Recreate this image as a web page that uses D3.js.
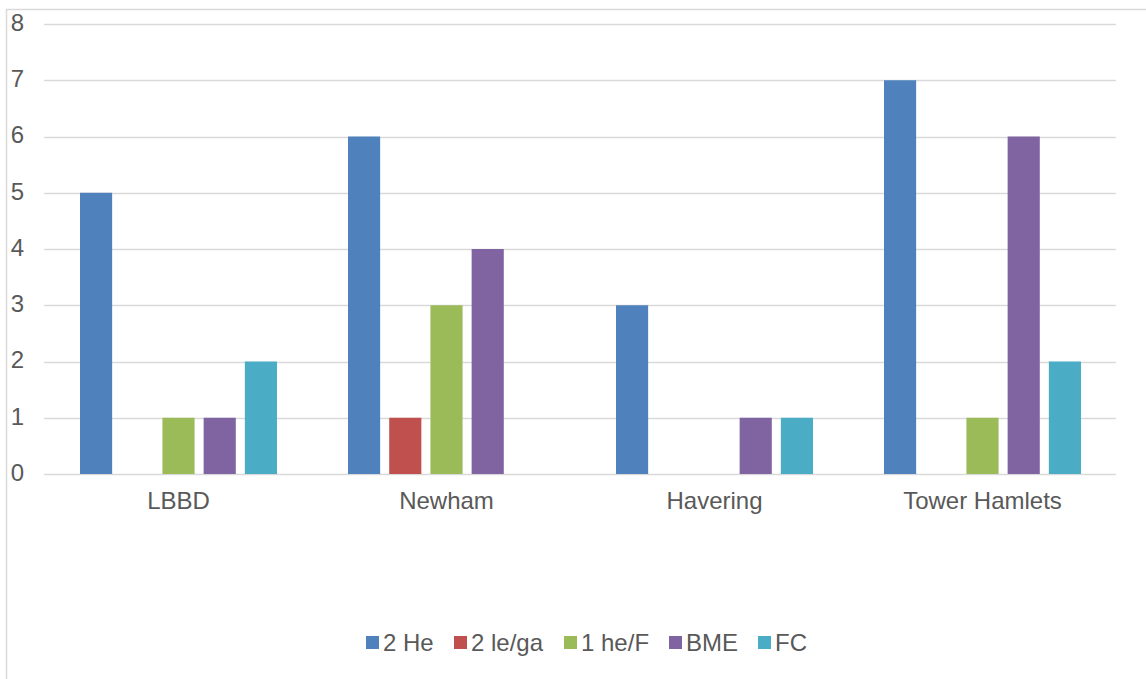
<!DOCTYPE html>
<html><head><meta charset="utf-8">
<script src="https://cdn.jsdelivr.net/npm/d3@7"></script>
<style>
body{margin:0;background:#fff;}
svg{display:block;font-family:"Liberation Sans",Arial,sans-serif;}
</style></head>
<body>
<svg id="c" width="1146" height="679"></svg>
<script>
const categories = ["LBBD", "Newham", "Havering", "Tower Hamlets"];
const seriesNames = ["2 He", "2 le/ga", "1 he/F", "BME", "FC"];
const seriesColors = ["#4F81BD", "#C0504D", "#9BBB59", "#8064A2", "#4BACC6"];
const s2He   = [5, 6, 3, 7];
const s2Lega = [0, 1, 0, 0];
const s1HeF  = [1, 3, 0, 1];
const sBME   = [1, 4, 1, 6];
const sFC    = [2, 0, 1, 2];
const yTicks = [0, 1, 2, 3, 4, 5, 6, 7, 8];

const seriesValues = [s2He, s2Lega, s1HeF, sBME, sFC];
const svg = d3.select("#c");
const textColor = "#595959";
const fs = 24;

// outer border
svg.append("path").attr("d", "M6.5,679 L6.5,9.5 L1146,9.5")
  .attr("fill", "none").attr("stroke", "#d9d9d9").attr("stroke-width", 1.5);

const plot = {left: 44, right: 1116, top: 24, bottom: 474};
const y = d3.scaleLinear().domain([0, 8]).range([plot.bottom, plot.top]);
const x0 = d3.scaleBand().domain(categories).range([plot.left, plot.right]);
const cw = x0.bandwidth();
const x1 = d3.scaleBand().domain(seriesNames).range([36, cw - 35]).paddingInner(0.22);

// gridlines
svg.append("g").selectAll("line").data(yTicks).join("line")
  .attr("x1", plot.left).attr("x2", plot.right)
  .attr("y1", d => Math.round(y(d)) + 0.5).attr("y2", d => Math.round(y(d)) + 0.5)
  .attr("stroke", "#d9d9d9").attr("stroke-width", 1.4);

// y labels
svg.append("g").selectAll("text").data(yTicks).join("text")
  .attr("x", 24).attr("y", d => y(d) - 1.5).attr("dy", "0.35em")
  .attr("text-anchor", "end").attr("font-size", fs).attr("fill", textColor)
  .text(d => d);

// bars
const rows = [];
categories.forEach((c, ci) => seriesNames.forEach((s, si) => {
  rows.push({c, s, si, v: seriesValues[si][ci]});
}));
svg.append("g").selectAll("rect").data(rows.filter(r => r.v > 0)).join("rect")
  .attr("x", d => x0(d.c) + x1(d.s))
  .attr("width", x1.bandwidth())
  .attr("y", d => y(d.v))
  .attr("height", d => y(0) - y(d.v))
  .attr("fill", d => seriesColors[d.si]);

// category labels
svg.append("g").selectAll("text").data(categories).join("text")
  .attr("x", d => x0(d) + cw / 2 + 0.5).attr("y", 501).attr("dy", "0.35em")
  .attr("text-anchor", "middle").attr("font-size", fs).attr("fill", textColor)
  .text(d => d);

// legend
const legendX = [366, 454, 564, 669, 758];
const lg = svg.append("g").selectAll("g").data(seriesNames).join("g")
  .attr("transform", (d, i) => `translate(${legendX[i]},643)`);
lg.append("rect").attr("x", 0).attr("y", -7).attr("width", 13).attr("height", 13)
  .attr("fill", (d, i) => seriesColors[i]);
lg.append("text").attr("x", 17).attr("y", 0).attr("dy", "0.35em")
  .attr("font-size", fs).attr("fill", textColor).text(d => d);
</script>
</body></html>
